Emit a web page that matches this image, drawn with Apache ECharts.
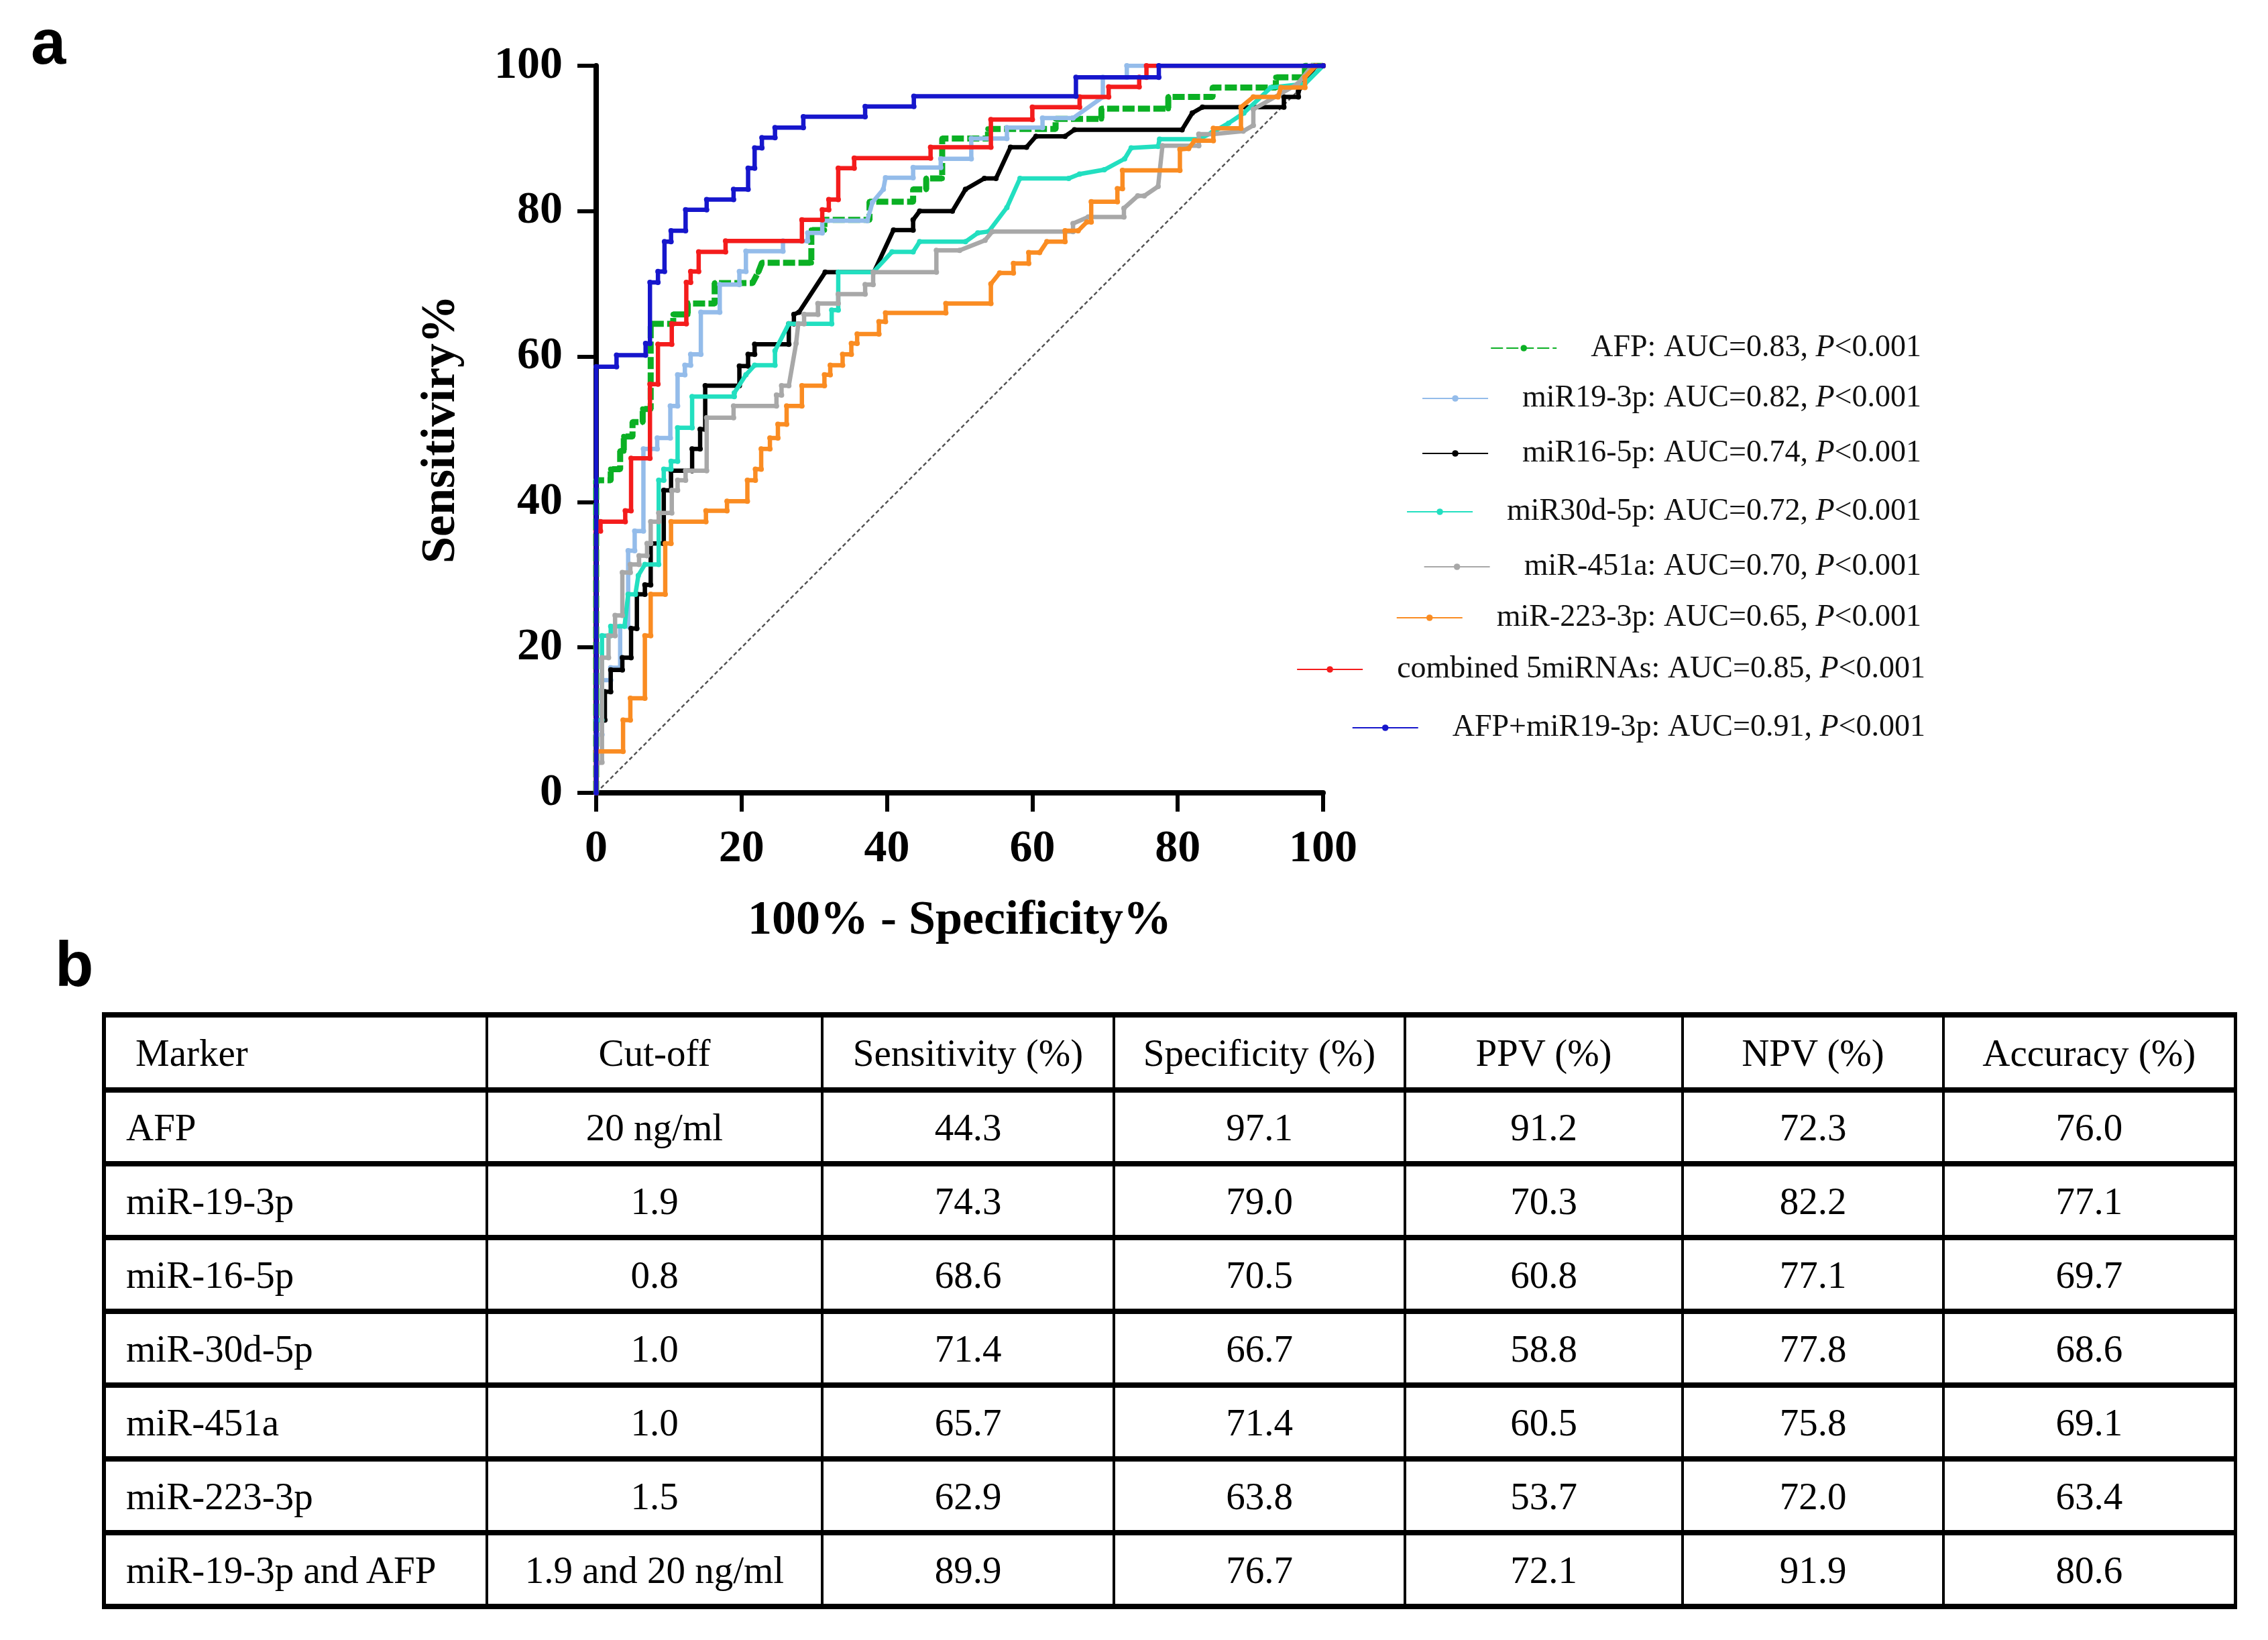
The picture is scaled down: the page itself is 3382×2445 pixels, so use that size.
<!DOCTYPE html>
<html>
<head>
<meta charset="utf-8">
<script src="https://cdn.jsdelivr.net/npm/echarts/dist/echarts.min.js"></script>
<style>
html,body{margin:0;padding:0;background:#fff;}
#chart{position:absolute;left:0;top:0;width:3382px;height:2445px;}
#tbl{position:absolute;left:152px;top:1509px;width:3178px;height:884px;border-collapse:collapse;table-layout:fixed;
  font-family:'Liberation Serif','Times New Roman',serif;font-size:57px;color:#000;}
#tbl td{border-top:8px solid #000;border-bottom:8px solid #000;border-left:4px solid #000;border-right:4px solid #000;text-align:center;padding:0;white-space:nowrap;}
#tbl td:first-child{text-align:left;padding-left:30px;border-left:6px solid #000;}
#tbl td:last-child{border-right:5px solid #000;}
#tbl tr.hd td:first-child{padding-left:44px;}
</style>
</head>
<body>
<div id="chart"></div>
<table id="tbl"></table>
<script>
// ---------- data ----------
const legendNames = [
  'AFP: AUC=0.83, P<0.001',
  'miR19-3p: AUC=0.82, P<0.001',
  'miR16-5p: AUC=0.74, P<0.001',
  'miR30d-5p: AUC=0.72, P<0.001',
  'miR-451a: AUC=0.70, P<0.001',
  'miR-223-3p: AUC=0.65, P<0.001',
  'combined 5miRNAs: AUC=0.85, P<0.001',
  'AFP+miR19-3p: AUC=0.91, P<0.001'
];
const axisTicks = [0, 20, 40, 60, 80, 100];

const rocAFP = [[0,0],[0,43],[2,43],[2,44.5],[3.3,44.5],[3.3,47],[3.8,47],[3.8,49],[5,49],[5,51],[6.4,51],[6.4,52.8],[7.5,52.8],[7.5,64.5],[10.6,64.5],[10.6,65.8],[12.6,65.8],[12.6,67.3],[16.3,67.3],[16.3,70.1],[21.5,70.1],[22.3,71.6],[22.8,72.9],[29.6,72.9],[29.6,77.4],[31.4,77.4],[31.4,78.8],[37.6,78.8],[37.6,81.3],[43.6,81.3],[43.6,83.0],[45.4,83.0],[45.4,84.5],[47.6,84.5],[47.6,90.0],[53.9,90.0],[53.9,91.3],[63.2,91.3],[63.2,92.7],[69.5,92.7],[69.5,94.1],[78.7,94.1],[78.7,95.7],[84.8,95.7],[84.8,97.0],[93.5,97.0],[93.5,98.4],[97.5,98.4],[97.5,100],[100,100]];

const rocMiR19 = [[0,0],[0,8],[0.8,8],[0.8,15.5],[2.0,15.5],[2.0,17.2],[3.3,17.2],[3.3,22.9],[4.4,22.9],[4.4,33.3],[5.3,33.3],[5.3,36.0],[6.5,36.0],[6.5,47.3],[8.4,47.3],[8.4,48.8],[10.2,48.8],[10.2,53.2],[11.2,53.2],[11.2,57.5],[12.2,57.5],[12.2,58.8],[13.0,58.8],[13.0,60.3],[14.4,60.3],[14.4,66.1],[17.0,66.1],[17.0,69.9],[19.7,69.9],[19.7,71.7],[20.6,71.7],[20.6,74.5],[25.7,74.5],[25.7,75.9],[29.1,75.9],[29.1,77.0],[31.1,77.0],[31.1,78.7],[37.3,78.7],[38.0,81.2],[39.5,83.0],[39.8,84.6],[43.6,84.6],[43.6,86.0],[47.4,86.0],[47.4,87.2],[51.6,87.2],[51.6,90.0],[56.5,90.0],[56.5,91.5],[61.4,91.5],[61.4,92.8],[65.6,92.8],[69.7,95.7],[69.7,98.4],[73.0,98.4],[73.0,100],[100,100]];

const rocMiR16 = [[0,0],[0,10],[1.2,10],[1.2,13.9],[2.0,13.9],[2.0,16.9],[3.6,16.9],[3.6,18.6],[4.8,18.6],[4.8,22.6],[5.6,22.6],[5.6,27.3],[6.7,27.3],[6.7,28.6],[7.5,28.6],[7.5,34.3],[9.3,34.3],[9.3,41.6],[10.3,41.6],[10.3,44.3],[13.2,44.3],[13.2,47.3],[14.3,47.3],[14.3,50],[15.0,50],[15.0,56.0],[19.7,56.0],[19.7,58.7],[20.9,58.7],[20.9,60.3],[21.8,60.3],[21.8,61.7],[26.5,61.7],[26.5,64.5],[27.2,64.5],[27.2,65.8],[27.9,66.1],[31.5,71.6],[38.2,71.6],[40.9,77.4],[43.6,77.4],[43.6,78.8],[44.5,80.0],[49.0,80.0],[50.8,83.0],[53.4,84.5],[55.0,84.5],[57.0,88.8],[59.2,88.8],[60.5,90.3],[64.5,90.3],[65.8,91.2],[80.6,91.2],[82.0,93.5],[83.4,94.3],[94.6,94.3],[94.6,95.7],[96.6,95.7],[96.6,96.5],[99,100],[100,100]];

const rocMiR30d = [[0,0],[0,10],[0.8,10],[0.8,21.6],[2.0,21.6],[2.0,22.9],[3.9,22.9],[4.4,27.3],[5.4,27.3],[5.8,29.9],[6.7,31.4],[8.6,31.4],[8.6,43.0],[9.3,43.0],[9.3,44.5],[10.3,44.5],[10.3,45.6],[11.2,45.6],[11.2,50.2],[13.2,50.2],[13.2,54.5],[19.0,54.5],[19.0,55],[20.6,57.5],[21.8,58.8],[24.6,58.8],[24.6,60.8],[26.5,64.5],[32.4,64.5],[32.4,66.4],[33.3,66.4],[33.3,71.6],[38.1,71.6],[40.7,74.4],[43.6,74.4],[44.5,75.8],[50.8,75.8],[52.5,77.0],[54.0,77.2],[56.5,80.5],[58.3,84.5],[65.0,84.5],[66.5,85.1],[69.9,85.7],[72.7,87.2],[73.6,88.7],[77.3,88.9],[77.5,89.9],[82.9,89.9],[84.7,90.8],[87.0,92.1],[89.1,93.5],[92.8,97.0],[97.5,97.5],[100,100]];

const rocMiR451a = [[0,0],[0,4],[0.8,4.2],[0.8,18.6],[1.7,18.6],[1.7,21.6],[2.6,21.6],[2.6,24.4],[3.6,24.4],[3.6,30.3],[4.7,30.3],[4.7,31.4],[5.9,31.4],[5.9,32.6],[7.0,32.6],[7.0,34.3],[7.5,34.3],[7.5,37.3],[8.6,37.3],[8.6,38.5],[10.4,38.5],[10.4,41.6],[11.2,41.6],[11.2,43.0],[12.3,43.0],[12.3,44.3],[15.2,44.3],[15.2,51.6],[18.9,51.6],[18.9,53.2],[24.8,53.2],[24.8,54.7],[25.5,54.7],[25.5,56.0],[26.5,56.0],[27.5,61.8],[27.8,64.5],[28.6,64.5],[28.6,65.8],[30.5,65.8],[30.5,67.3],[33.3,67.3],[33.3,68.6],[37.0,68.6],[37.0,69.9],[38.1,69.9],[38.1,71.6],[46.8,71.6],[46.8,74.6],[50.0,74.6],[53.5,76.0],[54.5,77.2],[65.6,77.2],[65.6,78.3],[67.7,79.2],[72.6,79.2],[72.6,80.4],[74.5,82.1],[75.4,82.1],[77.3,83.4],[77.9,89.0],[82.9,89.0],[82.9,90.6],[84.8,90.6],[89.0,91.0],[90.4,91.8],[90.4,94.0],[96.5,97.5],[98.5,100],[100,100]];

const rocMiR223 = [[0,0],[0,5.7],[3.7,5.7],[3.7,10.0],[4.7,10.0],[4.7,13.0],[6.7,13.0],[6.7,21.6],[7.5,21.6],[7.5,27.3],[9.5,27.3],[9.5,34.3],[10.3,34.3],[10.3,37.3],[15.1,37.3],[15.1,38.8],[18.0,38.8],[18.0,40.1],[20.8,40.1],[20.8,43.0],[21.9,43.0],[21.9,44.5],[22.7,44.5],[22.7,47.3],[23.9,47.3],[23.9,48.8],[25.0,48.8],[25.0,50.7],[26.2,50.7],[26.2,53.2],[28.3,53.2],[28.3,56.0],[31.4,56.0],[31.4,57.5],[32.2,57.5],[32.2,58.8],[33.9,58.8],[33.9,60.3],[35.1,60.3],[35.1,61.8],[35.9,61.8],[35.9,63.1],[38.9,63.1],[38.9,64.8],[39.8,64.8],[39.8,66.0],[48.1,66.0],[48.1,67.3],[54.3,67.3],[54.3,70.0],[55.5,71.5],[57.4,71.5],[57.4,72.8],[59.5,72.8],[59.5,74.3],[61.0,74.3],[62.0,75.8],[64.5,75.8],[64.5,77.3],[66.3,77.3],[67.5,78.5],[68.1,78.5],[68.1,81.3],[71.7,81.3],[71.7,83.1],[72.4,83.1],[72.4,85.6],[80.3,85.6],[80.3,88.5],[81.5,88.6],[82.3,89.7],[84.9,89.7],[84.9,91.4],[88.7,91.4],[88.7,94.3],[90.4,95.7],[93.8,95.7],[94.2,97.0],[97.5,97.0],[97.5,98.4],[99,100],[100,100]];

const rocCombined = [[0,0],[0,36],[0.6,36],[0.6,37.3],[4.0,37.3],[4.0,38.8],[4.8,38.8],[4.8,46],[7.4,46],[7.4,56.2],[8.5,56.2],[8.5,61.7],[10.4,61.7],[10.4,64.5],[12.4,64.5],[12.4,70.2],[13.0,70.2],[13.0,71.7],[14.1,71.7],[14.1,74.4],[17.8,74.4],[17.8,75.9],[28.3,75.9],[28.3,78.8],[31.1,78.8],[31.1,80.2],[32.0,80.2],[32.0,81.6],[33.3,81.6],[33.3,85.9],[35.5,85.9],[35.5,87.3],[46.0,87.3],[46.0,88.8],[54.3,88.8],[54.3,92.6],[60.0,92.6],[60.0,94.3],[66.5,94.3],[66.5,95.7],[70.5,95.7],[70.5,97.1],[74.7,97.1],[74.7,98.4],[75.7,98.4],[75.7,100],[100,100]];

const rocAFPmiR19 = [[0,0],[0,58.6],[2.8,58.6],[2.8,60.2],[6.8,60.2],[6.8,61.8],[7.4,61.8],[7.4,70.2],[8.5,70.2],[8.5,71.7],[9.4,71.7],[9.4,75.8],[10.3,75.8],[10.3,77.3],[12.3,77.3],[12.3,80.2],[15.2,80.2],[15.2,81.6],[18.9,81.6],[18.9,83.0],[20.9,83.0],[20.9,85.9],[21.8,85.9],[21.8,88.7],[22.8,88.7],[22.8,90.1],[24.6,90.1],[24.6,91.5],[28.5,91.5],[28.5,93.0],[37.0,93.0],[37.0,94.4],[43.7,94.4],[43.7,95.8],[66.0,95.8],[66.0,98.4],[77.4,98.4],[77.4,100],[100,100]];

const chanceLine = [[0,0],[100,100]];

const tableHeader = ['Marker','Cut-off','Sensitivity (%)','Specificity (%)','PPV (%)','NPV (%)','Accuracy (%)'];
const tableMarkers = ['AFP','miR-19-3p','miR-16-5p','miR-30d-5p','miR-451a','miR-223-3p','miR-19-3p and AFP'];
const tableCutoffs = ['20 ng/ml','1.9','0.8','1.0','1.0','1.5','1.9 and 20 ng/ml'];
const tableSensitivity = [44.3,74.3,68.6,71.4,65.7,62.9,89.9];
const tableSpecificity = [97.1,79.0,70.5,66.7,71.4,63.8,76.7];
const tablePPV = [91.2,70.3,60.8,58.8,60.5,53.7,72.1];
const tableNPV = [72.3,82.2,77.1,77.8,75.8,72.0,91.9];
const tableAccuracy = [76.0,77.1,69.7,68.6,69.1,63.4,80.6];

// ---------- styles / layout ----------
const rocData = [rocAFP, rocMiR19, rocMiR16, rocMiR30d, rocMiR451a, rocMiR223, rocCombined, rocAFPmiR19];
const colors = ['#0BB024','#94BCEA','#000000','#22DFC0','#A8A8A8','#FA8C22','#F41C1C','#1616CC'];
const widths = [9,6.5,6.5,6.5,6.5,6.5,6.5,6.5];
const legendCenterY = [514, 589, 671, 758, 840, 916, 993, 1080];
const legendRight = [512, 512, 512, 512, 512, 512, 506, 506];
const serifFont = "'Liberation Serif','Times New Roman',serif";

const series = [{
  type:'line', data: chanceLine, symbol:'none', z:1, silent:true,
  lineStyle:{color:'#555', width:2.5, type:[6,4]}
}];
rocData.forEach((d,i)=>{
  series.push({
    name: legendNames[i], type:'line', data:d, z:2+i,
    symbol:'circle', symbolSize:8, showSymbol:true,
    lineStyle:{color:colors[i], width:widths[i], type: i===0 ? [18,5] : 'solid'},
    itemStyle:{color:colors[i]},
    emphasis:{disabled:true}
  });
});

const legends = legendNames.map((n,i)=>({
  data:[n], right: legendRight[i], top: legendCenterY[i]-28,
  itemWidth: 98, itemHeight: 12, selectedMode:false,
  formatter: s => s.replace('P<','{it|P}<'),
  textStyle:{fontFamily:serifFont, fontSize:46, color:'#111', lineHeight:56, padding:[0,0,0,46],
    rich:{it:{fontFamily:serifFont, fontSize:46, fontStyle:'italic', color:'#111', lineHeight:56}}}
}));

const axisCommon = {
  type:'value', min:0, max:100, interval:20,
  axisLine:{show:true, onZero:false, lineStyle:{color:'#000', width:8}},
  axisTick:{show:true, length:28, lineStyle:{color:'#000', width:6}},
  axisLabel:{margin:50, fontFamily:serifFont, fontWeight:'bold', fontSize:68, color:'#000',
    formatter: v => axisTicks.indexOf(v) >= 0 ? String(v) : ''},
  splitLine:{show:false},
  nameLocation:'middle',
  nameTextStyle:{fontFamily:serifFont, fontWeight:'bold', fontSize:72, color:'#000'}
};

const chart = echarts.init(document.getElementById('chart'), null, {renderer:'canvas'});
chart.setOption({
  animation:false,
  backgroundColor:'#fff',
  grid:{left:889, top:98, width:1084, height:1084, containLabel:false, outerBoundsMode:'none'},
  xAxis: Object.assign({}, axisCommon, {name:'100% - Specificity%', nameGap:155}),
  yAxis: Object.assign({}, axisCommon, {name:'Sensitiviry%', nameGap:195, nameRotate:90}),
  legend: legends,
  series: series,
  graphic:[
    {type:'text', left:46, top:22, style:{text:'a', font:"bold 94px 'Liberation Sans', Arial, sans-serif", fill:'#000'}},
    {type:'text', left:82, top:1397, style:{text:'b', font:"bold 94px 'Liberation Sans', Arial, sans-serif", fill:'#000'}}
  ]
});

// ---------- table ----------
const tbl = document.getElementById('tbl');
const colW = [571, 500, 435, 434, 414, 389, 435];
const cg = document.createElement('colgroup');
colW.forEach(w=>{const c=document.createElement('col'); c.style.width=w+'px'; cg.appendChild(c);});
tbl.appendChild(cg);
function addRow(cells, cls, h){
  const tr=document.createElement('tr'); if(cls) tr.className=cls; tr.style.height=h+'px';
  cells.forEach(t=>{const td=document.createElement('td'); td.textContent=t; tr.appendChild(td);});
  tbl.appendChild(tr);
}
addRow(tableHeader,'hd',112);
tableMarkers.forEach((m,i)=>{
  addRow([m, tableCutoffs[i], tableSensitivity[i].toFixed(1), tableSpecificity[i].toFixed(1),
    tablePPV[i].toFixed(1), tableNPV[i].toFixed(1), tableAccuracy[i].toFixed(1)], '', 110);
});
</script>
</body>
</html>
